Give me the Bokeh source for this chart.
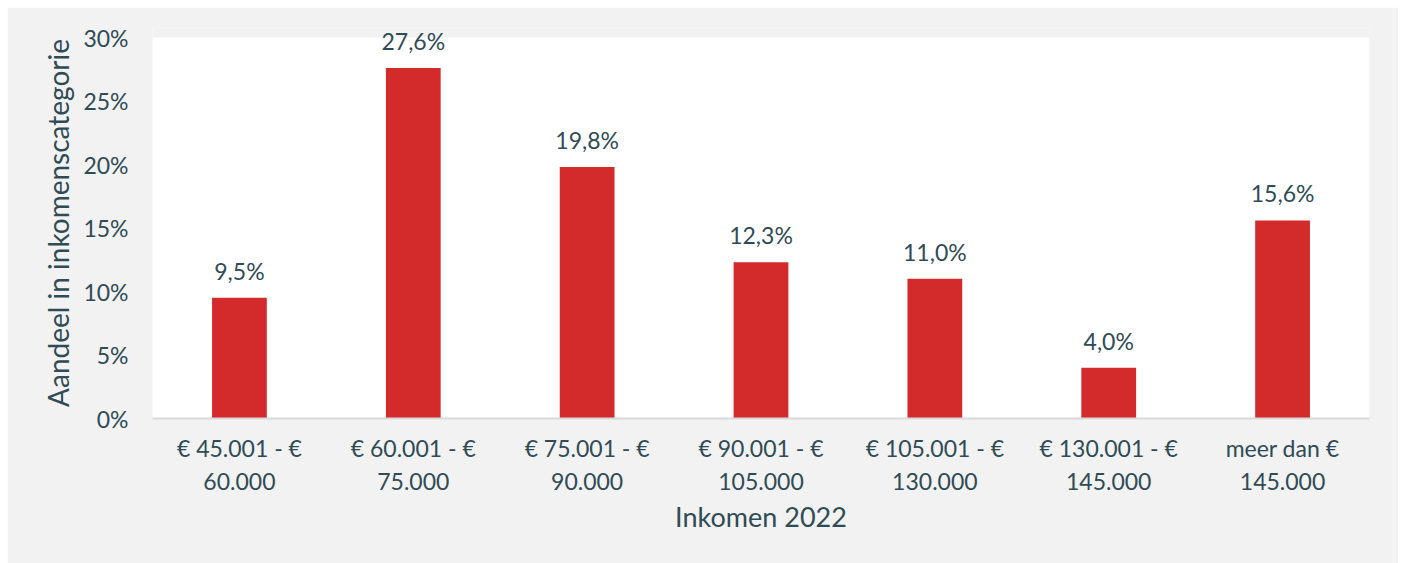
from bokeh.plotting import figure
from bokeh.models import ColumnDataSource, FixedTicker, Range1d, Label, BoxAnnotation
from bokeh.embed import file_html
from bokeh.resources import INLINE

categories = ["€ 45.001 - €\n60.000", "€ 60.001 - €\n75.000", "€ 75.001 - €\n90.000",
              "€ 90.001 - €\n105.000", "€ 105.001 - €\n130.000", "€ 130.001 - €\n145.000",
              "meer dan €\n145.000"]
values = [9.5, 27.6, 19.8, 12.3, 11.0, 4.0, 15.6]
labels = ["9,5%", "27,6%", "19,8%", "12,3%", "11,0%", "4,0%", "15,6%"]
y_ticks = [0, 5, 10, 15, 20, 25, 30]
y_max = 30

FONT = "Lato"
TXT = "#2f4b55"
BG = "#f2f2f2"

src = ColumnDataSource(dict(cat=categories, val=values, lab=labels))

# frame extended 10px above the 30% line so the top data label is not clipped
p = figure(x_range=categories, y_range=Range1d(0, y_max * 391 / 381), width=1391, height=556,
           output_backend="svg", toolbar_location=None, tools="")
p.margin = (7, 0, 0, 7)
p.min_border_left = 145
p.min_border_right = 29
p.min_border_top = 20
p.min_border_bottom = 145
p.background_fill_color = BG
p.border_fill_color = BG
p.outline_line_color = None

p.add_layout(BoxAnnotation(bottom=0, top=y_max, fill_color="white", fill_alpha=1,
                           line_color=None, level="underlay"))

p.vbar(x="cat", top="val", width=0.315, source=src, fill_color="#d32b2b", line_color=None)

# Labels on the categorical range's synthetic coordinates (factor i -> i + 0.5)
for i, (v, t) in enumerate(zip(values, labels)):
    p.add_layout(Label(x=i + 0.5, y=v, text=t, text_align="center", text_baseline="bottom",
                       y_offset=13, text_font=FONT, text_font_size="23px",
                       text_color=TXT))

p.xgrid.visible = False
p.ygrid.visible = False

p.yaxis.ticker = FixedTicker(ticks=y_ticks)
p.yaxis.major_label_overrides = {t: f"{t}%" for t in y_ticks}
p.yaxis.axis_line_color = None
p.yaxis.major_tick_line_color = None
p.yaxis.minor_tick_line_color = None
p.yaxis.major_label_standoff = 18
p.yaxis.axis_label = "Aandeel in inkomenscategorie"
p.yaxis.axis_label_standoff = 5

p.xaxis.axis_line_color = "#d9d9d9"
p.xaxis.axis_line_width = 2
p.xaxis.major_tick_line_color = None
p.xaxis.minor_tick_line_color = None
p.xaxis.major_label_standoff = 9
p.xaxis.axis_label = "Inkomen 2022"
p.xaxis.axis_label_standoff = 2

for ax in (p.xaxis, p.yaxis):
    ax.major_label_text_font = FONT
    ax.major_label_text_font_size = "23px"
    ax.major_label_text_color = TXT
    ax.axis_label_text_font = FONT
    ax.axis_label_text_font_style = "normal"
    ax.axis_label_text_color = TXT
p.xaxis.axis_label_text_font_size = "27px"
p.yaxis.axis_label_text_font_size = "28px"

open("out.html", "w").write(file_html(p, INLINE))
